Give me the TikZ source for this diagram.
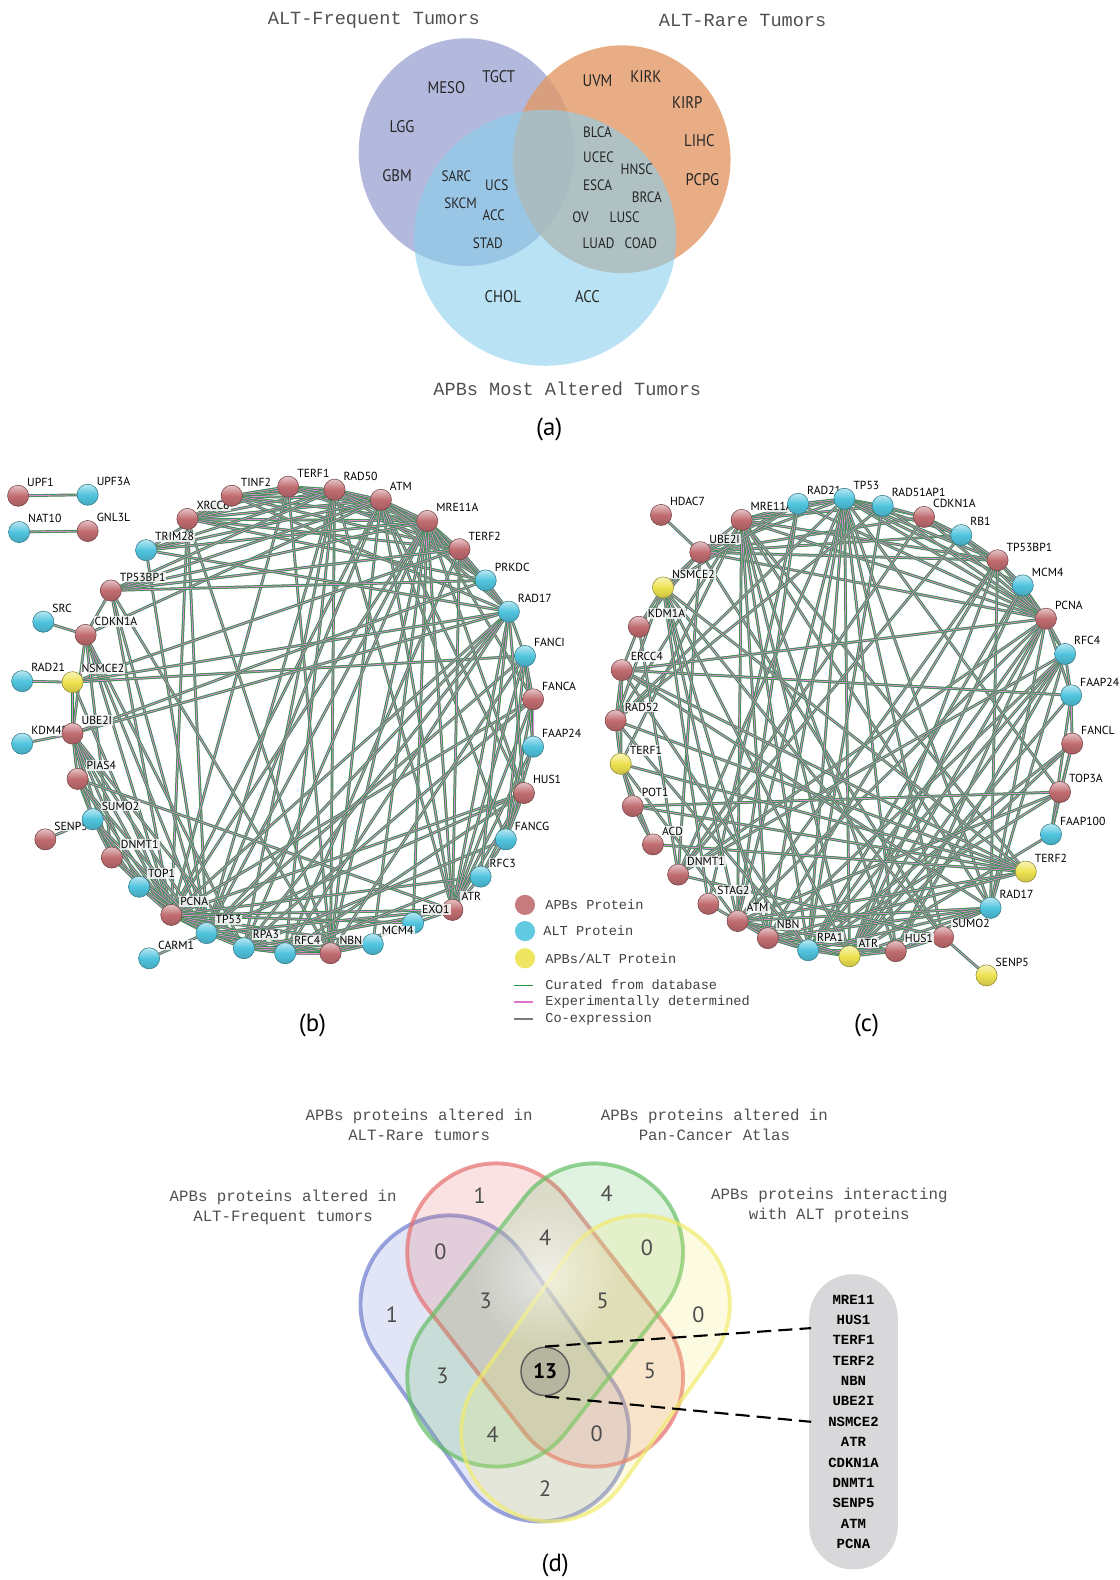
\documentclass[tikz,border=0pt]{standalone}
\usepackage{fontspec}
\setmainfont{PT Sans}
\setmonofont{Liberation Mono}
\newfontfamily\tumfont[FakeStretch=0.88]{PT Sans}
\usetikzlibrary{backgrounds,fadings}
\tikzfading[name=glowfade,inner color=transparent!0,outer color=transparent!100]
\definecolor{apbred}{RGB}{192,108,112}
\definecolor{altblue}{RGB}{80,196,222}
\definecolor{bothyel}{RGB}{238,226,80}
\definecolor{vpurple}{RGB}{160,166,212}
\definecolor{vorange}{RGB}{226,153,103}
\definecolor{vsky}{RGB}{138,208,238}
\definecolor{curgreen}{RGB}{35,150,65}
\definecolor{exppink}{RGB}{220,115,205}
\definecolor{coexgray}{RGB}{90,90,90}
\definecolor{dblue}{RGB}{110,125,205}
\definecolor{dred}{RGB}{230,110,110}
\definecolor{dgreen}{RGB}{100,190,100}
\definecolor{dyellow}{RGB}{240,235,110}
\definecolor{boxgray}{RGB}{216,216,218}
\definecolor{titlegray}{RGB}{80,80,80}
\definecolor{coregray}{RGB}{178,176,158}
\tikzset{
  prot/.style={circle,minimum size=0.42cm,inner sep=0pt,draw=#1!60!black,line width=0.3pt,
    top color=#1!40!white,bottom color=#1!85!black,middle color=#1,label distance=-3.5pt},
  plbl/.style={fill=white,fill opacity=0.8,text opacity=1,inner sep=0.6pt,
    font=\fontsize{6.6}{7}\selectfont},
  lnk/.style={draw=curgreen,double=exppink!85,double distance=0.5pt,line width=0.4pt,
    preaction={draw=black!45,line width=1.6pt}},
  tum/.style={font=\tumfont\fontsize{9.5}{10}\selectfont,text=black!85},
  tumin/.style={font=\tumfont\fontsize{8.5}{9}\selectfont,text=black!85},
  ttl/.style={font=\ttfamily\fontsize{10.5}{12}\selectfont,text=titlegray},
  dttl/.style={font=\ttfamily\fontsize{8.9}{11.4}\selectfont,text=titlegray,align=center},
  legtxt/.style={anchor=west,font=\ttfamily\fontsize{7.7}{9}\selectfont,text=black!75},
  legdot/.style={circle,minimum size=0.4cm,inner sep=0pt,fill=#1},
  sub/.style={font=\fontsize{14}{16}\selectfont},
  cnt/.style={font=\fontsize{12.5}{14}\selectfont,text=black!70},
  vset/.style={fill=#1,fill opacity=0.2,draw=#1,draw opacity=0.7,line width=2.2pt}
}
\begin{document}
\begin{tikzpicture}[x=0.02cm,y=-0.02cm]
\useasboundingbox (0,0) rectangle (1111,1568);
%(a) tumour types
\fill[vpurple,fill opacity=0.8] (463,151) ellipse [x radius=107,y radius=113];
\fill[vorange,fill opacity=0.8] (617,158) ellipse [x radius=108,y radius=113];
\fill[vsky,fill opacity=0.6] (541,236) ellipse [x radius=130,y radius=127];
\node[ttl] (tfreq) at (371,20) {ALT-Frequent Tumors};
\node[ttl] (trare) at (737,20) {ALT-Rare Tumors};
\node[ttl] (tmost) at (563,386) {APBs Most Altered Tumors};
\foreach \t/\x/\y [count=\i] in {MESO/443/87,TGCT/495/76,LGG/399/126,GBM/394/174,
    UVM/593/80,KIRK/641/76,KIRP/682/102,LIHC/694/140,PCPG/697/178,CHOL/499/294,ACC/583/294}
  \node[tum] (ta\i) at (\x,\y) {\t};
\foreach \t/\x/\y [count=\i] in {SARC/453/175,UCS/493/184,SKCM/457/202,ACC/490/214,STAD/484/241,
    BLCA/593/131,UCEC/594/156,HNSC/632/168,ESCA/593/184,BRCA/642/196,OV/576/216,
    LUSC/620/216,LUAD/594/241,COAD/636/241}
  \node[tumin] (tb\i) at (\x,\y) {\t};
\node[sub] (suba) at (545,426) {(a)};
%(b) network
\foreach \n/\x/\y/\c in {UPF1/18/492/apbred,UPF3A/87/491/altblue,NAT10/19/528/altblue,
    GNL3L/87/527/apbred,TRIM28/145/546/altblue,XRCC6/186/515/apbred,TINF2/230/492/apbred,
    TERF1/286/483/apbred,RAD50/332/486/apbred,ATM/378/496/apbred,MRE11A/424/517/apbred,
    TERF2/456/545/apbred,PRKDC/482/576/altblue,RAD17/505/607/altblue,FANCI/521/651/altblue,
    FANCA/529/694/apbred,FAAP24/529/741/altblue,HUS1/520/787/apbred,FANCG/502/833/altblue,
    RFC3/477/870/altblue,ATR/449/903/apbred,EXO1/410/916/altblue,MCM4/370/937/altblue,
    NBN/328/946/apbred,RFC4/283/946/altblue,RPA3/242/941/altblue,TP53/205/926/altblue,
    PCNA/170/908/apbred,CARM1/148/951/altblue,TOP1/138/880/altblue,DNMT1/111/851/apbred,
    SENP5/45/833/apbred,SUMO2/92/813/altblue,PIAS4/77/773/apbred,KDM4B/22/738/altblue,
    UBE2I/72/728/apbred,RAD21/22/676/altblue,NSMCE2/72/677/bothyel,SRC/43/617/altblue,
    CDKN1A/85/630/apbred,TP53BP1/110/586/apbred}
  \node[prot=\c,label={[plbl]45:\n}] (b\n) at (\x,\y) {};
\begin{scope}[on background layer]
\foreach \a/\b in {UPF1/UPF3A,NAT10/GNL3L,
    XRCC6/TINF2,XRCC6/TERF1,XRCC6/RAD50,XRCC6/ATM,XRCC6/MRE11A,XRCC6/TERF2,XRCC6/PRKDC,
    XRCC6/PCNA,XRCC6/TP53,XRCC6/NBN,TINF2/TERF1,TINF2/RAD50,TINF2/ATM,TINF2/MRE11A,
    TINF2/TERF2,TINF2/RAD17,TERF1/RAD50,TERF1/ATM,TERF1/MRE11A,TERF1/TERF2,TERF1/NBN,
    TERF1/PCNA,RAD50/ATM,RAD50/MRE11A,RAD50/TERF2,RAD50/PRKDC,RAD50/NBN,RAD50/ATR,
    RAD50/TP53,RAD50/RPA3,RAD50/RFC4,ATM/MRE11A,ATM/TERF2,ATM/PRKDC,ATM/RAD17,ATM/NBN,
    ATM/TP53,ATM/ATR,ATM/CDKN1A,ATM/HUS1,ATM/FANCG,ATM/PCNA,MRE11A/TERF2,MRE11A/PRKDC,
    MRE11A/RAD17,MRE11A/NBN,MRE11A/ATR,MRE11A/RPA3,MRE11A/TP53,MRE11A/PCNA,MRE11A/EXO1,
    MRE11A/MCM4,MRE11A/FANCA,MRE11A/HUS1,TERF2/PRKDC,TERF2/NSMCE2,TERF2/ATR,TERF2/RFC4,
    TRIM28/RAD50,TRIM28/ATM,TRIM28/MRE11A,TRIM28/TINF2,TRIM28/TP53,TRIM28/RAD17,
    TP53BP1/RAD50,TP53BP1/ATM,TP53BP1/MRE11A,TP53BP1/TERF2,TP53BP1/PRKDC,TP53BP1/TP53,
    TP53BP1/CDKN1A,TP53BP1/NBN,TP53BP1/PCNA,SRC/CDKN1A,CDKN1A/PCNA,CDKN1A/TP53,
    CDKN1A/DNMT1,CDKN1A/UBE2I,CDKN1A/RPA3,RAD21/NSMCE2,NSMCE2/UBE2I,NSMCE2/RAD17,
    NSMCE2/FANCI,NSMCE2/PCNA,KDM4B/UBE2I,UBE2I/PIAS4,UBE2I/SUMO2,UBE2I/PCNA,UBE2I/TP53,
    UBE2I/DNMT1,UBE2I/TOP1,UBE2I/RAD17,UBE2I/PRKDC,UBE2I/RPA3,PIAS4/SUMO2,PIAS4/TP53,
    PIAS4/PCNA,PIAS4/ATR,PIAS4/DNMT1,SUMO2/SENP5,SUMO2/DNMT1,SUMO2/TOP1,SUMO2/PCNA,
    SUMO2/TP53,DNMT1/PCNA,DNMT1/TP53,TOP1/PCNA,TOP1/TP53,PCNA/TP53,PCNA/RPA3,PCNA/RFC4,
    PCNA/NBN,PCNA/MCM4,PCNA/ATR,PCNA/RFC3,PCNA/EXO1,PCNA/HUS1,PCNA/FANCA,PCNA/RAD17,
    CARM1/TP53,TP53/RPA3,TP53/RFC4,TP53/NBN,TP53/ATR,TP53/HUS1,TP53/FANCI,TP53/RAD17,
    RPA3/RFC4,RPA3/NBN,RPA3/ATR,RPA3/MCM4,RPA3/RAD17,RPA3/FANCG,RPA3/FANCA,RFC4/NBN,
    RFC4/RFC3,RFC4/RAD17,RFC4/HUS1,RFC4/MCM4,NBN/ATR,NBN/EXO1,NBN/FANCI,NBN/MCM4,
    ATR/RFC3,ATR/HUS1,ATR/RAD17,ATR/FANCI,ATR/FANCA,ATR/FAAP24,RFC3/HUS1,RFC3/RAD17,
    RFC3/FANCG,FANCG/FANCA,FANCG/FAAP24,FANCG/FANCI,FANCG/HUS1,HUS1/RAD17,FAAP24/FANCA,
    FAAP24/FANCI,FANCA/FANCI,FANCI/RAD17,RAD17/PRKDC}
  \draw[lnk] (b\a) -- (b\b);
\end{scope}
\node[sub] (subb) at (310,1018) {(b)};
%(c) network
\foreach \n/\x/\y/\c in {HDAC7/656/511/apbred,UBE2I/695/548/apbred,MRE11A/736/516/apbred,
    RAD21/792/500/altblue,TP53/838/495/altblue,RAD51AP1/876/502/altblue,CDKN1A/917/513/apbred,
    RB1/954/531/altblue,TP53BP1/990/556/apbred,MCM4/1015/581/altblue,PCNA/1038/614/apbred,
    RFC4/1057/649/altblue,FAAP24/1063/690/altblue,FANCL/1064/738/apbred,TOP3A/1052/786/apbred,
    FAAP100/1043/828/altblue,TERF2/1018/865/bothyel,RAD17/983/901/altblue,SUMO2/936/930/apbred,
    SENP5/979/968/bothyel,HUS1/889/944/apbred,ATR/843/949/bothyel,RPA1/802/943/altblue,
    NBN/762/931/apbred,ATM/732/914/apbred,STAG2/703/897/apbred,DNMT1/673/868/apbred,
    ACD/648/838/apbred,POT1/628/800/apbred,TERF1/616/758/bothyel,RAD52/611/715/apbred,
    ERCC4/617/665/apbred,KDM1A/634/622/apbred,NSMCE2/658/583/bothyel}
  \node[prot=\c,label={[plbl]45:\n}] (c\n) at (\x,\y) {};
\begin{scope}[on background layer]
\foreach \a/\b in {HDAC7/UBE2I,UBE2I/NSMCE2,UBE2I/MRE11A,UBE2I/TP53,UBE2I/RAD21,UBE2I/PCNA,
    UBE2I/SUMO2,UBE2I/DNMT1,UBE2I/RB1,UBE2I/CDKN1A,UBE2I/TP53BP1,UBE2I/KDM1A,
    MRE11A/RAD21,MRE11A/TP53,MRE11A/RAD51AP1,MRE11A/TP53BP1,MRE11A/ATM,MRE11A/NBN,
    MRE11A/ATR,MRE11A/RPA1,MRE11A/TERF2,MRE11A/TERF1,MRE11A/PCNA,MRE11A/RAD52,MRE11A/HUS1,
    MRE11A/RAD17,RAD21/TP53,RAD21/STAG2,RAD21/ATM,RAD21/NSMCE2,RAD21/PCNA,TP53/RAD51AP1,
    TP53/CDKN1A,TP53/RB1,TP53/TP53BP1,TP53/PCNA,TP53/ATM,TP53/ATR,TP53/NBN,TP53/HUS1,
    TP53/SUMO2,TP53/RPA1,TP53/DNMT1,TP53/TOP3A,TP53/RAD17,TP53/MCM4,TP53/RAD52,
    RAD51AP1/RPA1,RAD51AP1/PCNA,RAD51AP1/RAD52,RAD51AP1/CDKN1A,CDKN1A/RB1,CDKN1A/PCNA,
    CDKN1A/DNMT1,CDKN1A/TP53BP1,RB1/TP53BP1,RB1/PCNA,RB1/DNMT1,TP53BP1/PCNA,TP53BP1/ATM,
    TP53BP1/NBN,TP53BP1/ATR,TP53BP1/RAD17,TP53BP1/MCM4,MCM4/PCNA,MCM4/RFC4,MCM4/ATR,
    MCM4/RPA1,PCNA/RFC4,PCNA/RAD17,PCNA/DNMT1,PCNA/HUS1,PCNA/RPA1,PCNA/ATR,PCNA/ERCC4,
    PCNA/ATM,PCNA/FAAP24,RFC4/FAAP24,RFC4/RAD17,RFC4/HUS1,RFC4/ATR,RFC4/RPA1,RFC4/NBN,
    RFC4/DNMT1,FAAP24/FANCL,FAAP24/FAAP100,FAAP24/ERCC4,FAAP24/ATR,FANCL/TOP3A,
    FANCL/FAAP100,FANCL/ATR,FANCL/RPA1,TOP3A/FAAP100,TOP3A/RPA1,TOP3A/POT1,TOP3A/ATM,
    FAAP100/ATR,TERF2/TERF1,TERF2/ACD,TERF2/POT1,TERF2/ATM,TERF2/NBN,TERF2/ERCC4,
    TERF2/RAD52,TERF2/NSMCE2,RAD17/HUS1,RAD17/ATR,RAD17/RPA1,RAD17/ATM,RAD17/NBN,
    RAD17/ERCC4,SUMO2/SENP5,SUMO2/NSMCE2,SUMO2/DNMT1,SUMO2/HUS1,HUS1/ATR,HUS1/ATM,
    HUS1/NBN,HUS1/RPA1,ATR/RPA1,ATR/NBN,ATR/ATM,ATR/NSMCE2,RPA1/NBN,RPA1/ATM,RPA1/RAD52,
    RPA1/ERCC4,NBN/ATM,NBN/NSMCE2,ATM/STAG2,ATM/TERF1,ATM/NSMCE2,STAG2/NSMCE2,
    DNMT1/KDM1A,ACD/POT1,ACD/TERF1,POT1/TERF1,TERF1/ERCC4,TERF1/RAD52,RAD52/ERCC4,
    ERCC4/KDM1A,KDM1A/NSMCE2,NSMCE2/RAD52}
  \draw[lnk] (c\a) -- (c\b);
\end{scope}
\node[sub] (subc) at (860,1018) {(c)};
%legend
\node[legdot=apbred!90] (leg1) at (521,898) {};
\node[legdot=altblue!90] (leg2) at (521,924) {};
\node[legdot=bothyel!90] (leg3) at (521,951) {};
\node[legtxt] (legt1) at (535,898) {APBs Protein};
\node[legtxt] (legt2) at (533,924) {ALT Protein};
\node[legtxt] (legt3) at (535,951) {APBs/ALT Protein};
\draw[curgreen,line width=1pt] (510,978) -- (529,978);
\draw[exppink,line width=1pt] (510,994) -- (529,994);
\draw[coexgray!80,line width=1pt] (510,1011) -- (529,1011);
\node[legtxt] (legt4) at (535,977) {Curated from database};
\node[legtxt] (legt5) at (535,994) {Experimentally determined};
\node[legtxt] (legt6) at (535,1011) {Co-expression};
%(d) four-set venn
\begin{scope}[shift={(491,1358)},rotate=-54.7]
  \draw[vset=dblue,rounded corners=1.75cm] (-166,-88) rectangle (166,88);
\end{scope}
\begin{scope}[shift={(541,1305)},rotate=-52]
  \draw[vset=dred,rounded corners=1.75cm] (-167,-88) rectangle (167,88);
\end{scope}
\begin{scope}[shift={(541,1305)},rotate=52]
  \draw[vset=dgreen,rounded corners=1.75cm] (-167,-88) rectangle (167,88);
\end{scope}
\begin{scope}[shift={(591,1358)},rotate=54.7]
  \draw[vset=dyellow,rounded corners=1.75cm] (-166,-88) rectangle (166,88);
\end{scope}
%glow
\fill[white,fill opacity=0.55,path fading=glowfade] (541,1265) circle [radius=75];
\node[dttl] (drare) at (416,1116) {APBs proteins altered in\\ALT-Rare tumors};
\node[dttl] (dpan) at (709,1116) {APBs proteins altered in\\Pan-Cancer Atlas};
\node[dttl] (dfreq) at (281,1198) {APBs proteins altered in\\ALT-Frequent tumors};
\node[dttl] (dint) at (823,1196) {APBs proteins interacting\\with ALT proteins};
\foreach \v/\x/\y [count=\i] in {1/476/1187,4/602/1185,0/437/1242,4/541/1228,0/642/1238,
    1/389/1305,3/482/1291,5/598/1291,0/693/1305,3/439/1365,5/645/1360,4/489/1424,
    0/592/1423,2/541/1477}
  \node[cnt] (n\i) at (\x,\y) {\v};
\node[circle,minimum size=0.96cm,inner sep=0pt,fill=coregray,fill opacity=0.85,text opacity=1,
  draw=black!65,line width=0.8pt,font=\bfseries\fontsize{12}{14}\selectfont] (c13) at (541,1361) {13};
\node[rectangle,rounded corners=0.87cm,minimum width=1.76cm,minimum height=5.86cm,
  fill=boxgray,align=center,font=\ttfamily\bfseries\fontsize{7.9}{11.5}\selectfont]
  (altbox) at (847,1411) {MRE11\\HUS1\\TERF1\\TERF2\\NBN\\UBE2I\\NSMCE2\\ATR\\CDKN1A\\DNMT1\\SENP5\\ATM\\PCNA};
\coordinate (boxin) at (805,1318);
\coordinate (boxout) at (805,1411);
\draw[line width=1.2pt,dash pattern=on 8pt off 4pt] (c13.north) -- (boxin);
\draw[line width=1.2pt,dash pattern=on 8pt off 4pt] (c13.south) -- (boxout);
\node[sub] (subd) at (551,1553) {(d)};
\end{tikzpicture}
\end{document}
